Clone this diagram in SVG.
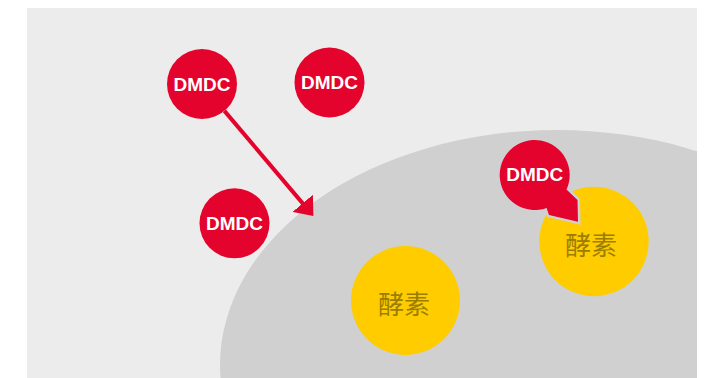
<svg xmlns="http://www.w3.org/2000/svg" width="709" height="378" viewBox="0 0 709 378">
  <style>
    .bg { fill: #ececec; }
    .cell { fill: #d0d0d0; }
    .red { fill: #e4032c; }
    .yellow { fill: #ffcc00; }
    .lbl { font-family: "Liberation Sans", Arial, sans-serif; font-weight: bold; font-size: 19px; fill: #ffffff; text-anchor: middle; }
    .enz { font-family: "Noto Sans CJK SC", "Noto Sans CJK JP", sans-serif; font-size: 26px; fill: #9b7d00; text-anchor: middle; }
    .shaft { stroke: #e4032c; stroke-width: 4; fill: none; }
  </style>
  <defs>
    <clipPath id="frame">
      <rect x="27" y="8" width="670" height="370"/>
    </clipPath>
    <marker id="head" markerUnits="userSpaceOnUse" viewBox="0 0 17 27" markerWidth="17" markerHeight="27" refX="8.5" refY="13.35" orient="auto">
      <path d="M0,0 L16.5,13.35 L0,26.7 Z" fill="#e4032c"/>
    </marker>
  </defs>

  <rect x="0" y="0" width="709" height="378" fill="#ffffff"/>
  <rect class="bg" x="27" y="8" width="670" height="370"/>

  <g id="cell" clip-path="url(#frame)">
    <ellipse class="cell" cx="557" cy="365" rx="337" ry="235"/>
  </g>

  <g id="enzyme1">
    <circle class="yellow" cx="405.5" cy="300.5" r="54.5"/>
    <text class="enz" x="404" y="314">酵素</text>
  </g>

  <g id="enzyme2">
    <circle class="yellow" cx="594" cy="241.5" r="54.7"/>
    <text class="enz" x="591" y="255">酵素</text>
  </g>

  <g id="dmdc1">
    <circle class="red" cx="202" cy="84" r="35"/>
    <text class="lbl" x="202" y="90.8">DMDC</text>
  </g>

  <g id="dmdc2">
    <circle class="red" cx="329.5" cy="82.5" r="35"/>
    <text class="lbl" x="329.5" y="89.3">DMDC</text>
  </g>

  <g id="dmdc3">
    <circle class="red" cx="234.5" cy="223.3" r="35"/>
    <text class="lbl" x="234.5" y="230">DMDC</text>
  </g>

  <g id="dmdc4">
    <path class="red" d="M566.5,189.6 L577.5,200 L578,221.7 L549,215 L546.6,207.9 A35,35 0 1,1 566.5,189.6 Z" stroke="#d0d0d0" stroke-width="5" stroke-linejoin="miter" paint-order="stroke"/>
    <text class="lbl" x="534.7" y="181.3">DMDC</text>
  </g>

  <g id="connectors">
    <line class="shaft" x1="224.4" y1="110.9" x2="308.2" y2="209.85" marker-end="url(#head)"/>
  </g>
</svg>
